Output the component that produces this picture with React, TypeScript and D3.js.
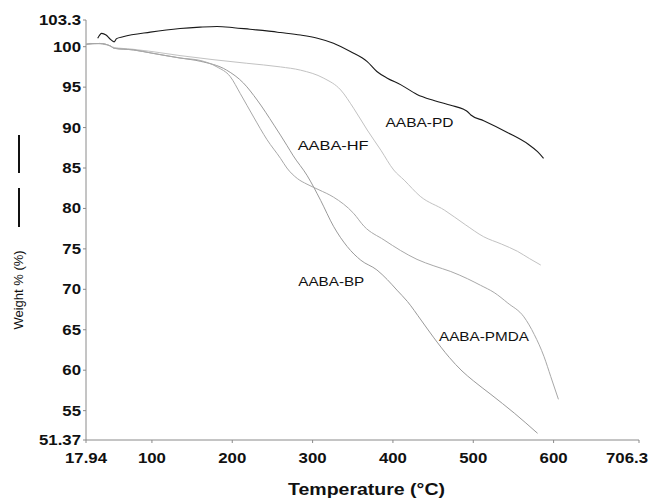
import React from 'react';
import * as d3 from 'd3';

const X_TICKS = [17.94, 100, 200, 300, 400, 500, 600, 706.3];
const X_TICK_LABELS = ['17.94', '100', '200', '300', '400', '500', '600', '706.3'];
const Y_TICKS = [51.37, 55, 60, 65, 70, 75, 80, 85, 90, 95, 100, 103.3];
const Y_TICK_LABELS = ['51.37', '55', '60', '65', '70', '75', '80', '85', '90', '95', '100', '103.3'];

const SERIES_NAMES = ['AABA-PD', 'AABA-HF', 'AABA-BP', 'AABA-PMDA'];

const PD_T = [32.5, 37.5, 42.9, 47.9, 52.9, 56, 64, 98, 135, 160, 181, 202, 222, 243, 260, 285, 306, 326, 347, 368, 380, 393, 410, 430, 451, 472, 488, 493, 497, 513, 543, 568, 580, 587.5];
const PD_W = [101.04, 101.65, 101.44, 100.95, 100.6, 101.0, 101.23, 101.8, 102.25, 102.42, 102.5, 102.35, 102.15, 101.95, 101.75, 101.44, 101.05, 100.43, 99.4, 98.16, 96.93, 96.11, 95.28, 94.1, 93.35, 92.75, 92.26, 91.96, 91.55, 90.85, 89.37, 87.97, 87.02, 86.2];

const HF_T = [17.94, 23, 35, 48, 53, 75, 100, 135, 176, 218, 260, 285, 314, 335, 351, 368, 385, 401, 414, 434, 464, 490, 513, 535, 555, 570, 584];
const HF_W = [100.3, 100.4, 100.35, 100.1, 99.9, 99.7, 99.4, 98.9, 98.4, 97.95, 97.5, 97.1, 96.1, 94.65, 92.4, 89.7, 87.2, 84.75, 83.5, 81.5, 79.8, 78.0, 76.5, 75.6, 74.7, 73.8, 73.0];

const BP_T = [17.94, 35, 48, 53, 77, 100, 135, 160, 193, 214, 231, 252, 268, 276, 293, 310, 326, 343, 360, 380, 393, 405, 418, 435, 451, 470, 486, 500, 522, 551, 580];
const BP_W = [100.3, 100.4, 100.1, 99.8, 99.6, 99.2, 98.6, 98.2, 97.1, 95.5, 93.4, 90.3, 87.8, 86.5, 84.1, 81.0, 77.8, 75.3, 73.6, 72.4, 71.2, 69.9, 68.5, 66.2, 64.0, 61.6, 59.9, 58.7, 57.0, 54.7, 52.2];

const PMDA_T = [17.94, 35, 48, 53, 77, 100, 135, 160, 181, 197.5, 210, 226.6, 243.3, 260, 268, 281, 293, 308, 326, 351, 364, 389, 409.5, 430, 451, 472, 493, 509, 526, 543, 563, 576, 588, 596.5, 606];
const PMDA_W = [100.3, 100.4, 100.1, 99.8, 99.6, 99.2, 98.6, 98.3, 97.5, 96.3, 94.2, 91.3, 88.5, 86.2, 85.0, 83.7, 83.0, 82.3, 81.4, 79.4, 77.8, 76.1, 74.8, 73.7, 72.9, 72.2, 71.3, 70.5, 69.6, 68.3, 66.6, 64.4, 61.7, 59.2, 56.4];

// label anchor positions in data units (temperature, weight)
const LABEL_T = [390.8, 281.4, 282.2, 457.3];
const LABEL_W = [90.07, 87.23, 70.41, 63.61];

export default function App() {
  const W = 650;
  const H = 498;
  const x = d3.scaleLinear().domain([17.94, 706.3]).range([86, 639]);
  const y = d3.scaleLinear().domain([51.37, 103.3]).range([440, 20]);
  const line = d3
    .line<[number, number]>()
    .x((d) => x(d[0]))
    .y((d) => y(d[1]))
    .curve(d3.curveMonotoneX);

  const zip = (a: number[], b: number[]) => a.map((v, i) => [v, b[i]] as [number, number]);
  const series = [
    { name: SERIES_NAMES[0], pts: zip(PD_T, PD_W), color: '#1a1a1a', width: 1.1, lw: 68 },
    { name: SERIES_NAMES[1], pts: zip(HF_T, HF_W), color: '#c2c2c2', width: 1, lw: 71 },
    { name: SERIES_NAMES[2], pts: zip(BP_T, BP_W), color: '#9a9a9a', width: 1, lw: 66 },
    { name: SERIES_NAMES[3], pts: zip(PMDA_T, PMDA_W), color: '#a8a8a8', width: 1, lw: 90 },
  ];

  const axisColor = '#8a8a8a';
  const font = "'Liberation Sans', Arial, sans-serif";
  const [x0, x1] = x.range();
  const [yb, yt] = y.range();
  const lastX = X_TICKS.length - 1;

  return (
    <svg
      width={W}
      height={H}
      viewBox={`0 0 ${W} ${H}`}
      style={{ position: 'absolute', left: 0, top: 0, background: '#fff' }}
      fontFamily={font}
    >
      <rect x={0} y={0} width={W} height={H} fill="#fff" />
      {/* axes */}
      <line x1={x0} x2={x0} y1={yt} y2={yb} stroke={axisColor} strokeWidth={1} />
      <line x1={x0} x2={x1} y1={yb} y2={yb} stroke={axisColor} strokeWidth={1} />
      {Y_TICKS.map((t, i) => (
        <g key={'yt' + i}>
          <line x1={x0 - 3} x2={x0} y1={y(t)} y2={y(t)} stroke={axisColor} />
          <text
            transform={`translate(${x0 - 5},${y(t) + 5}) scale(1.2,1)`}
            textAnchor="end"
            fontSize={14}
            fontWeight="bold"
            fill="#111"
          >
            {Y_TICK_LABELS[i]}
          </text>
        </g>
      ))}
      {X_TICKS.map((t, i) => (
        <g key={'xt' + i}>
          <line x1={x(t)} x2={x(t)} y1={yb} y2={yb + 3} stroke={axisColor} />
          <text
            transform={`translate(${i === lastX ? W - 2 : x(t)},${yb + 23}) scale(1.2,1)`}
            textAnchor={i === lastX ? 'end' : 'middle'}
            fontSize={14}
            fontWeight="bold"
            fill="#111"
          >
            {X_TICK_LABELS[i]}
          </text>
        </g>
      ))}
      {/* series */}
      {series.map((s) => (
        <path
          key={s.name}
          d={line(s.pts) || ''}
          fill="none"
          stroke={s.color}
          strokeWidth={s.width}
        />
      ))}
      {series.map((s, i) => (
        <text
          key={'lab' + i}
          x={x(LABEL_T[i])}
          y={y(LABEL_W[i])}
          fontSize={12}
          textLength={s.lw}
          lengthAdjust="spacingAndGlyphs"
          fill="#111"
        >
          {s.name}
        </text>
      ))}
      {/* axis titles */}
      <text
        x={366.5}
        y={495}
        textAnchor="middle"
        fontSize={17}
        fontWeight="bold"
        textLength={157}
        lengthAdjust="spacingAndGlyphs"
        fill="#111"
      >
        Temperature (°C)
      </text>
      <line x1={19} x2={19} y1={135} y2={173} stroke="#111" strokeWidth={2} />
      <line x1={19} x2={19} y1={188} y2={227} stroke="#111" strokeWidth={2} />
      <text
        transform="translate(23,290) rotate(-90)"
        textAnchor="middle"
        fontSize={13}
        fill="#111"
      >
        Weight % (%)
      </text>
    </svg>
  );
}
